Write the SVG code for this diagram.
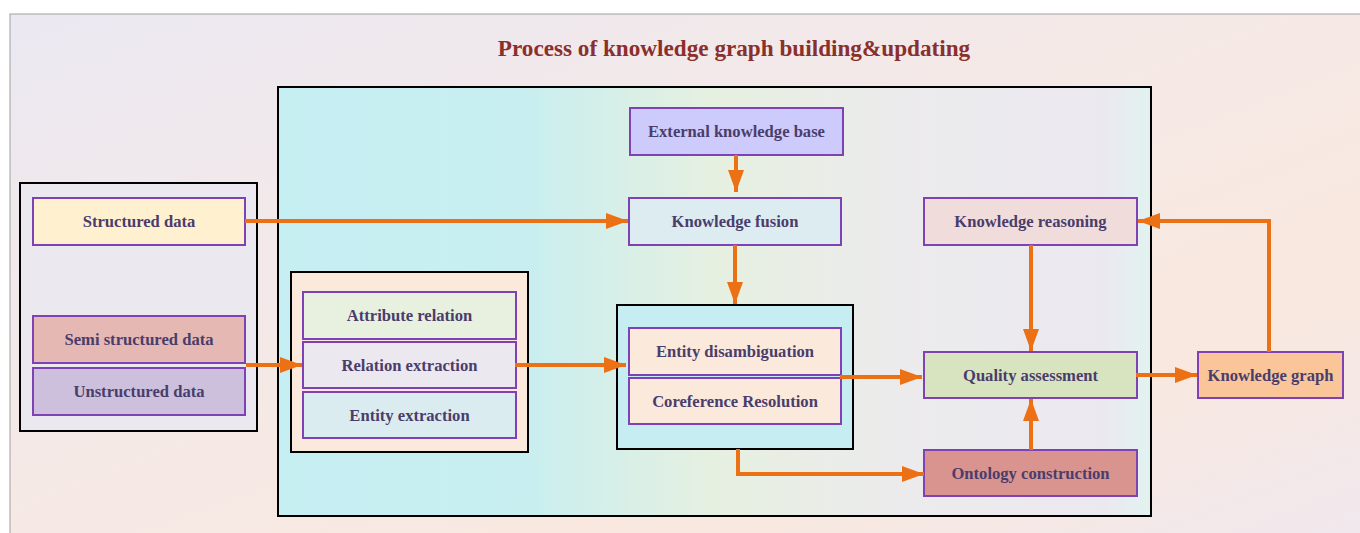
<svg xmlns="http://www.w3.org/2000/svg" width="1360" height="533" viewBox="0 0 1360 533">
  <defs>
    <linearGradient id="bgGrad" x1="0" y1="0" x2="1" y2="1">
      <stop offset="0" stop-color="#ebe8f2"/>
      <stop offset="0.45" stop-color="#f5e9e6"/>
      <stop offset="0.75" stop-color="#f9e8df"/>
      <stop offset="1" stop-color="#f1e8ee"/>
    </linearGradient>
    <linearGradient id="mainGrad" x1="0" y1="0" x2="1" y2="0">
      <stop offset="0" stop-color="#c6eff3"/>
      <stop offset="0.28" stop-color="#c8eef0"/>
      <stop offset="0.5" stop-color="#e6f0e0"/>
      <stop offset="0.7" stop-color="#ecebec"/>
      <stop offset="0.95" stop-color="#ebe9f0"/>
      <stop offset="1" stop-color="#e2f2f0"/>
    </linearGradient>
    <marker id="arrow" viewBox="0 0 22 16" refX="22" refY="8" markerWidth="22" markerHeight="16" markerUnits="userSpaceOnUse" orient="auto">
      <path d="M0,0 L22,8 L0,16 Z" fill="#ec7014"/>
    </marker>
    <style>
      .frame { stroke: #000; stroke-width: 2; }
      .node rect { stroke: #7e42b4; stroke-width: 2; }
      .node text { font-family: "Liberation Serif", "Times New Roman", serif; font-weight: bold; font-size: 16.6px; fill: #4a3d6b; text-anchor: middle; dominant-baseline: central; }
      .edge { fill: none; stroke: #ec7014; stroke-width: 4; marker-end: url(#arrow); }
    </style>
  </defs>

  <!-- page background -->
  <rect x="10" y="14" width="1351" height="520" fill="url(#bgGrad)" stroke="#a0a0a0" stroke-width="1"/>

  <text x="734" y="48" font-family="Liberation Serif, 'Times New Roman', serif" font-weight="bold" font-size="23.2" fill="#8b2f2c" text-anchor="middle" dominant-baseline="central">Process of knowledge graph building&amp;updating</text>

  <!-- containers -->
  <rect class="frame" x="278" y="87" width="873" height="429" fill="url(#mainGrad)"/>
  <rect class="frame" x="20" y="183" width="237" height="248" fill="#ece8f0"/>
  <rect class="frame" x="291" y="272" width="237" height="180" fill="#fbe9dc"/>
  <rect class="frame" x="617" y="305" width="236" height="144" fill="#c6eef2"/>

  <!-- sources -->
  <g id="structured-data" class="node">
    <rect x="33" y="198" width="212" height="47" fill="#fff0d0"/>
    <text x="139" y="221.5">Structured data</text>
  </g>
  <g id="semi-structured-data" class="node">
    <rect x="33" y="316" width="212" height="47" fill="#e5b8b4"/>
    <text x="139" y="339.5">Semi structured data</text>
  </g>
  <g id="unstructured-data" class="node">
    <rect x="33" y="368" width="212" height="47" fill="#ccc0dc"/>
    <text x="139" y="391.5">Unstructured data</text>
  </g>

  <!-- extraction -->
  <g id="attribute-relation" class="node">
    <rect x="303" y="292" width="213" height="47" fill="#e8f0e0"/>
    <text x="409.5" y="315.5">Attribute relation</text>
  </g>
  <g id="relation-extraction" class="node">
    <rect x="303" y="342" width="213" height="46" fill="#ece8f0"/>
    <text x="409.5" y="365">Relation extraction</text>
  </g>
  <g id="entity-extraction" class="node">
    <rect x="303" y="392" width="213" height="46" fill="#daecf0"/>
    <text x="409.5" y="415">Entity extraction</text>
  </g>

  <!-- fusion -->
  <g id="external-knowledge-base" class="node">
    <rect x="630" y="108" width="213" height="47" fill="#cccbfc"/>
    <text x="736.5" y="131.5">External knowledge base</text>
  </g>
  <g id="knowledge-fusion" class="node">
    <rect x="629" y="198" width="212" height="47" fill="#dcecf1"/>
    <text x="735" y="221.5">Knowledge fusion</text>
  </g>
  <g id="entity-disambiguation" class="node">
    <rect x="629" y="328" width="212" height="47" fill="#fbe9dc"/>
    <text x="735" y="351.5">Entity disambiguation</text>
  </g>
  <g id="coreference-resolution" class="node">
    <rect x="629" y="378" width="212" height="46" fill="#fbe9dc"/>
    <text x="735" y="401">Coreference Resolution</text>
  </g>

  <!-- processing -->
  <g id="knowledge-reasoning" class="node">
    <rect x="924" y="198" width="213" height="47" fill="#f1dcdc"/>
    <text x="1030.5" y="221.5">Knowledge reasoning</text>
  </g>
  <g id="quality-assessment" class="node">
    <rect x="924" y="352" width="213" height="46" fill="#d8e4c0"/>
    <text x="1030.5" y="375">Quality assessment</text>
  </g>
  <g id="ontology-construction" class="node">
    <rect x="924" y="450" width="213" height="46" fill="#d9948f"/>
    <text x="1030.5" y="473">Ontology construction</text>
  </g>
  <g id="knowledge-graph" class="node">
    <rect x="1198" y="352" width="145" height="46" fill="#f9c599"/>
    <text x="1270.5" y="375">Knowledge graph</text>
  </g>

  <!-- connectors -->
  <g id="connectors">
    <path class="edge" d="M245,221 H628"/>
    <path class="edge" d="M736,155 V192"/>
    <path class="edge" d="M735,245 V304"/>
    <path class="edge" d="M246,365 H302"/>
    <path class="edge" d="M515,365 H626"/>
    <path class="edge" d="M840,377 H922"/>
    <path class="edge" d="M738,449 V474 H924"/>
    <path class="edge" d="M1031,450 V399"/>
    <path class="edge" d="M1031,245 V351"/>
    <path class="edge" d="M1136,375 H1197"/>
    <path class="edge" d="M1269,352 V221 H1138"/>
  </g>
</svg>
